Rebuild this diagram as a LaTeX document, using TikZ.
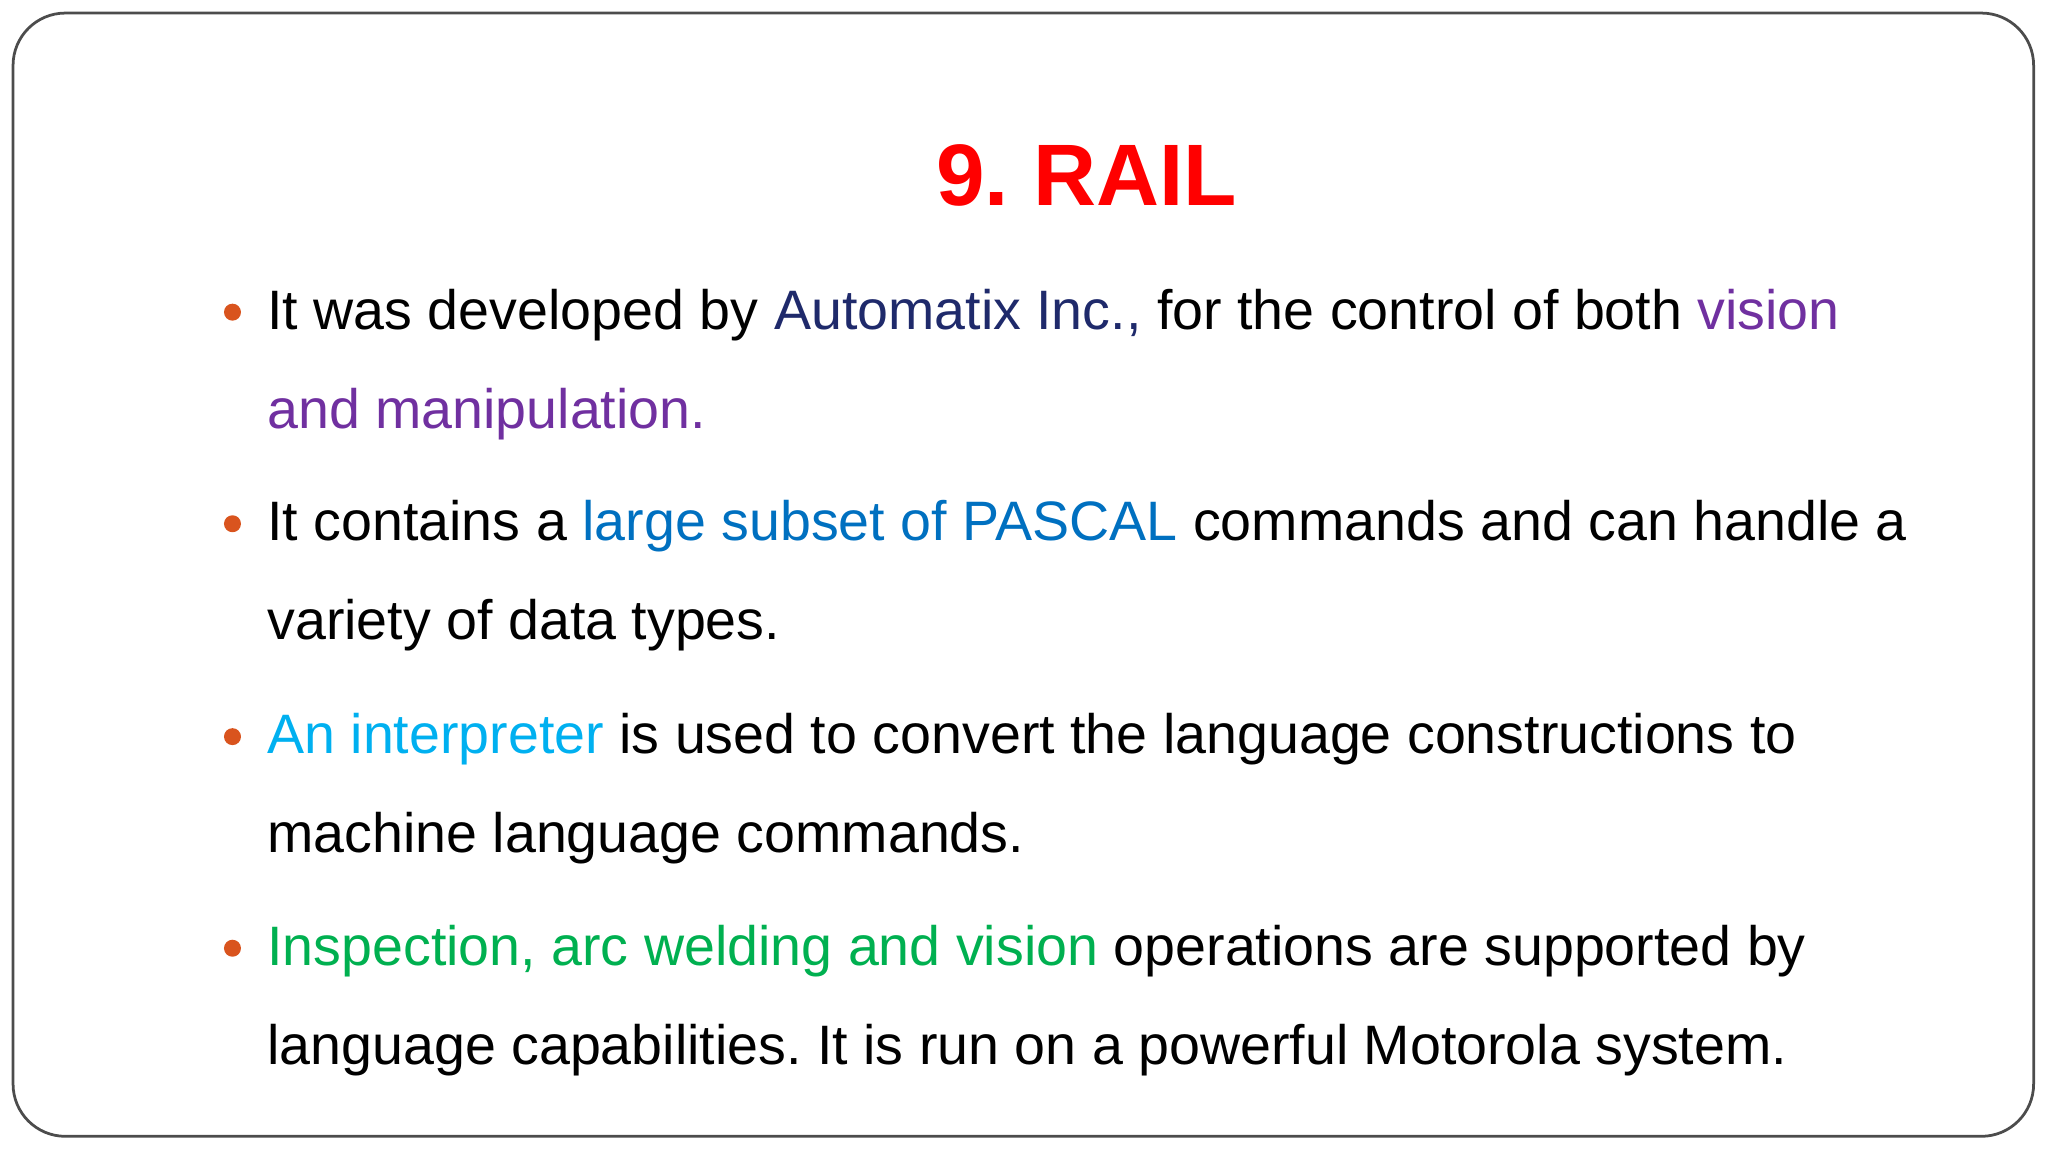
\documentclass[tikz,border=0pt]{standalone}
\usepackage{fontspec}
\setmainfont{Liberation Sans}
\frenchspacing
\definecolor{navy}{HTML}{1F2A6B}
\definecolor{purp}{HTML}{7030A0}
\definecolor{blu}{HTML}{0070C0}
\definecolor{cyn}{HTML}{00B0F0}
\definecolor{grn}{HTML}{00B050}
\definecolor{bul}{HTML}{D9541E}
\definecolor{ttl}{HTML}{FF0000}
\begin{document}
\begin{tikzpicture}[x=0.01cm,y=-0.01cm,
  line/.style={anchor=base west,inner sep=0pt,font=\fontsize{12.1pt}{15pt}\selectfont},
  bull/.style={circle,fill=bul,inner sep=0pt,minimum size=0.13cm}]
\useasboundingbox (0,0) rectangle (1568,882);
\draw[rounded corners=0.4cm,draw=black!70,line width=0.6pt] (10,10) rectangle (1557,870);
\node[anchor=base,inner sep=0pt,font=\fontsize{19pt}{22pt}\selectfont\bfseries,text=ttl] (title) at (832,157) {9. RAIL};
\node[bull] (b1) at (178,239) {};
\node[bull] (b2) at (178,401) {};
\node[bull] (b3) at (178,564) {};
\node[bull] (b4) at (178,726) {};
\node[line] (l1) at (204,252) {It was developed by \textcolor{navy}{Automatix Inc.,} for the control of both \textcolor{purp}{vision}};
\node[line,text=purp] (l2) at (204,328) {and manipulation.};
\node[line] (l3) at (204,414) {It contains a \textcolor{blu}{large subset of PASCAL} commands and can handle a};
\node[line] (l4) at (204,490) {variety of data types.};
\node[line] (l5) at (204,577) {\textcolor{cyn}{An interpreter} is used to convert the language constructions to};
\node[line] (l6) at (204,653) {machine language commands.};
\node[line] (l7) at (204,739) {\textcolor{grn}{Inspection, arc welding and vision} operations are supported by};
\node[line] (l8) at (204,815) {language capabilities. It is run on a powerful Motorola system.};
\end{tikzpicture}
\end{document}
